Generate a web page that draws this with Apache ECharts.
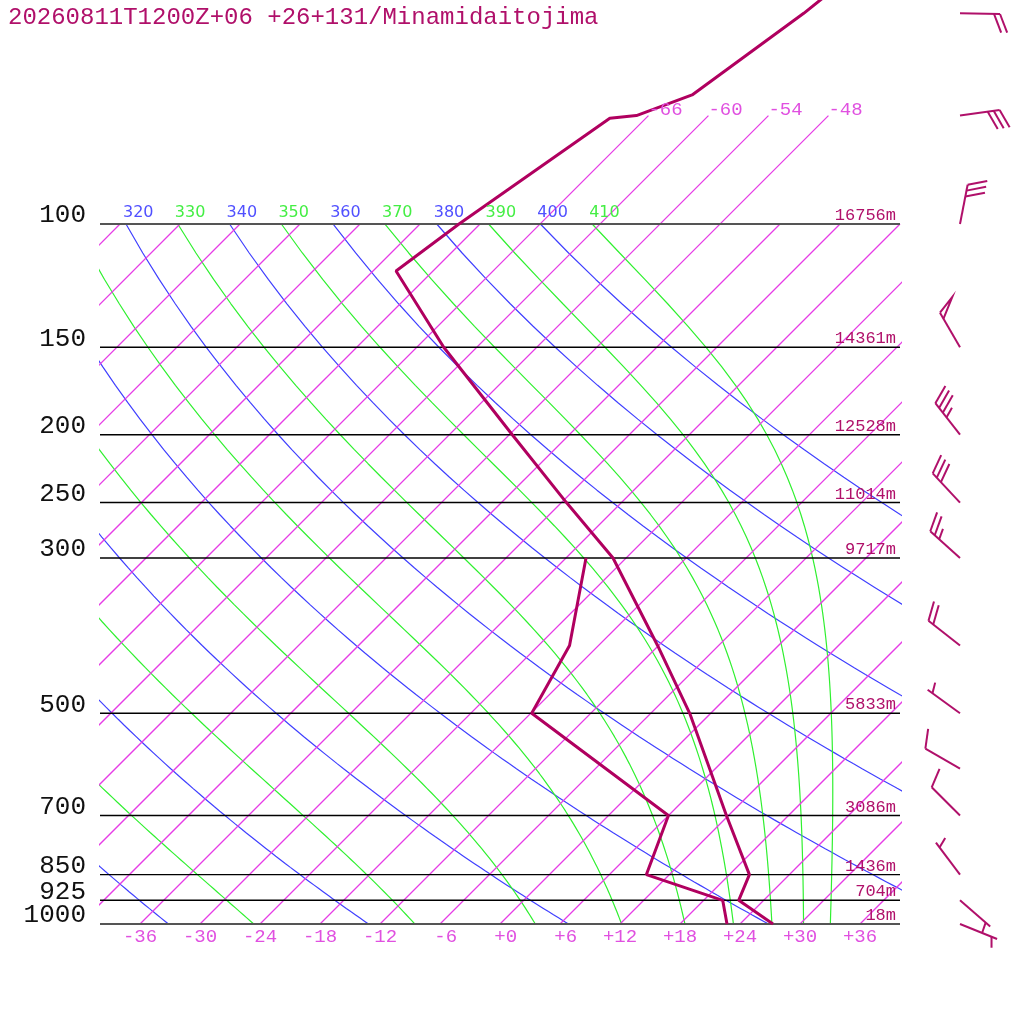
<!DOCTYPE html>
<html>
<head>
<meta charset="utf-8">
<title>Skew-T Minamidaitojima</title>
<script src="https://cdn.jsdelivr.net/npm/echarts@6/dist/echarts.min.js"></script>
<style>
  html, body { margin: 0; padding: 0; background: #fff; }
  #skewt { width: 1024px; height: 1024px; }
</style>
</head>
<body>
<div id="skewt"></div>
<script>
// sounding (hPa / degC)
var tempP = [1000, 925, 850, 700, 500, 400, 300, 250, 200, 150, 116.7, 100, 70.6, 70, 65.4, 50, 40];
var tempT = [27.3, 21.5, 20.0, 11.8, -2.1, -12.1, -25.3, -35.5, -47.7, -63.3, -75.7, -74.1, -69.6, -67.2, -63.7, -60.7, -59.0];
var dewP = [1000, 925, 850, 700, 500, 400, 300];
var dewT = [22.7, 19.9, 9.7, 6.0, -17.9, -20.9, -28.0];

// isobars + geopotential heights
var isobarP = [1000, 925, 850, 700, 500, 300, 250, 200, 150, 100];
var isobarH = ['18m', '704m', '1436m', '3086m', '5833m', '9717m', '11014m', '12528m', '14361m', '16756m'];

// background lines
var isothermT = [-108, -102, -96, -90, -84, -78, -72, -66, -60, -54, -48, -42, -36, -30, -24, -18, -12, -6, 0, 6, 12, 18, 24, 30, 36];
var isothermTopLabels = [-66, -60, -54, -48];
var isothermBottomLabels = [-36, -30, -24, -18, -12, -6, 0, 6, 12, 18, 24, 30, 36];
var dryTheta = [240, 260, 280, 300, 320, 340, 360, 380, 400];
var moistTheta = [250, 270, 290, 310, 330, 350, 370, 390, 410];

// winds (hPa / deg / kt)
var windP = [1000, 925, 850, 700, 600, 500, 400, 300, 250, 200, 150, 100, 70, 50];
var windDir = [112, 131, 323, 315, 300, 306, 308, 312, 317, 322, 330, 11, 82, 91];
var windKt = [5, 5, 5, 10, 10, 5, 20, 25, 30, 35, 50, 30, 30, 20];

var TITLE = '20260811T1200Z+06 +26+131/Minamidaitojima';

var SKEW = 70;          // degC per decade of pressure
var KAPPA = 0.2857;
var P_TOP = 47.86;
var BARB_X = 46;
var MAG = '#b0106a';
var ISO = '#e63ce6';
var MONO = '"Liberation Mono", monospace';

function skewX(t, p) { return t + SKEW * Math.log10(1000 / p); }

// pseudo-adiabatic lapse rate dT/dp (K/hPa)
function moistLapse(p, T) {
  var es = 6.112 * Math.exp(17.67 * (T - 273.15) / (T - 29.65));
  var rs = 0.622 * es / (p - es);
  var Rd = 287.04, cp = 1005.7, Lv = 2.501e6;
  return (Rd * T + Lv * rs) / (cp + Lv * Lv * rs * 0.622 / (Rd * T * T)) / p;
}

function dryCurve(theta) {
  var pts = [];
  for (var p = 1000; p >= 100; p -= 10) {
    pts.push([skewX(theta * Math.pow(p / 1000, KAPPA) - 273.15, p), p]);
  }
  return pts;
}

function moistCurve(theta) {
  var p = 100, T = theta * Math.pow(0.1, KAPPA), dp = 2;
  var pts = [[skewX(T - 273.15, p), p]];
  while (p < 1000) {
    var k1 = moistLapse(p, T);
    var k2 = moistLapse(p + dp / 2, T + dp / 2 * k1);
    var k3 = moistLapse(p + dp / 2, T + dp / 2 * k2);
    var k4 = moistLapse(p + dp, T + dp * k3);
    T += dp / 6 * (k1 + 2 * k2 + 2 * k3 + k4);
    p += dp;
    if (p % 10 === 0) pts.push([skewX(T - 273.15, p), p]);
  }
  return pts;
}

var series = [];
function addLine(points, color, width, z) {
  series.push({
    type: 'line', data: points, symbol: 'none', silent: true, animation: false,
    color: color, itemStyle: { color: color },
    lineStyle: { color: color, width: width, opacity: 1 }, z: z
  });
}

// dry adiabats
dryTheta.forEach(function (th) { addLine(dryCurve(th), '#4040ff', 1.2, 2); });
// moist adiabats
moistTheta.forEach(function (th) { addLine(moistCurve(th), '#30f030', 1.2, 2); });
// isotherms
isothermT.forEach(function (t) {
  var pEnd = isothermTopLabels.indexOf(t) >= 0 ? 70 : 100;
  addLine([[skewX(t, 1000), 1000], [skewX(t, pEnd), pEnd]], ISO, 1.25, 2);
});
// isobars
isobarP.forEach(function (p) {
  var edge = (p === 100 || p === 1000);
  addLine([[-40, p], [40, p]], edge ? '#555' : '#000', edge ? 2 : 1.4, 3);
});
// temperature and dewpoint
addLine(tempP.map(function (p, i) { return [skewX(tempT[i], p), p]; }), '#b0005f', 3, 10);
addLine(dewP.map(function (p, i) { return [skewX(dewT[i], p), p]; }), '#b0005f', 3, 10);

function textEl(x, y, text, align, font, color) {
  return { type: 'text', style: { x: x, y: y, text: text, align: align, verticalAlign: 'middle', font: font, fill: color } };
}

// pressure and height labels
series.push({
  type: 'custom', clip: false, silent: true, animation: false, z: 20,
  data: isobarP.map(function (p, i) { return [p, i]; }),
  renderItem: function (params, api) {
    var p = api.value(0), i = api.value(1);
    var L = api.coord([-40, p]), R = api.coord([40, p]);
    return { type: 'group', children: [
      textEl(L[0] - 14, L[1] - 8.5, String(p), 'right', '26px ' + MONO, '#111'),
      textEl(R[0] - 4, R[1] - 8.5, isobarH[i], 'right', '17px ' + MONO, MAG)
    ] };
  }
});

// isotherm labels (bottom and top)
series.push({
  type: 'custom', clip: false, silent: true, animation: false, z: 20,
  data: isothermBottomLabels.map(function (t) { return [t]; }),
  renderItem: function (params, api) {
    var t = api.value(0);
    var c = api.coord([skewX(t, 1000), 1000]);
    var s = (t < 0 ? '-' : '+') + Math.abs(t);
    while (s.length < 3) s = ' ' + s;
    return textEl(c[0], c[1] + 12.5, s, 'center', '19px ' + MONO, '#e050e0');
  }
});
series.push({
  type: 'custom', clip: false, silent: true, animation: false, z: 20,
  data: isothermTopLabels.map(function (t) { return [t]; }),
  renderItem: function (params, api) {
    var t = api.value(0);
    var c = api.coord([skewX(t, 70), 70]);
    return textEl(c[0], c[1] - 5.5, String(t), 'left', '19px ' + MONO, '#e050e0');
  }
});

// theta labels at 100 hPa
function thetaLabels(list, color) {
  series.push({
    type: 'custom', clip: false, silent: true, animation: false, z: 20,
    data: list.filter(function (th) {
      return skewX(th * Math.pow(0.1, KAPPA) - 273.15, 100) > -40;
    }).map(function (th) { return [th]; }),
    renderItem: function (params, api) {
      var th = api.value(0);
      var c = api.coord([skewX(th * Math.pow(0.1, KAPPA) - 273.15, 100), 100]);
      return textEl(c[0] - 3, c[1] - 11.5, String(th), 'left', '16px "DejaVu Sans"', color);
    }
  });
}
thetaLabels(dryTheta, '#5050ff');
thetaLabels(moistTheta, '#44ee44');

// wind barbs
series.push({
  type: 'custom', clip: false, silent: true, animation: false, z: 20,
  data: windP.map(function (p, i) { return [p, windDir[i], windKt[i]]; }),
  renderItem: function (params, api) {
    var p = api.value(0), dir = api.value(1) * Math.PI / 180, kt = api.value(2);
    var b = api.coord([BARB_X, p]);
    var ux = Math.sin(dir), uy = -Math.cos(dir);
    var tip = [b[0] + 40 * ux, b[1] + 40 * uy];
    var fa = Math.atan2(uy, ux) + 68 * Math.PI / 180;
    var fx = Math.cos(fa), fy = Math.sin(fa);
    var st = { stroke: MAG, lineWidth: 2, fill: null };
    var kids = [{ type: 'line', shape: { x1: b[0], y1: b[1], x2: tip[0], y2: tip[1] }, style: st }];
    var s = Math.round(kt / 5) * 5, d = 0;
    var nPen = Math.floor(s / 50); s -= nPen * 50;
    var nFull = Math.floor(s / 10); s -= nFull * 10;
    function at(k) { return [tip[0] - k * ux, tip[1] - k * uy]; }
    for (var i = 0; i < nPen; i++) {
      var a0 = at(d), a1 = at(d + 7);
      kids.push({ type: 'polyline', shape: { points: [a0, [a0[0] + 20 * fx, a0[1] + 20 * fy], a1] }, style: st });
      d += 9;
    }
    for (var j = 0; j < nFull; j++) {
      var q = at(d);
      kids.push({ type: 'line', shape: { x1: q[0], y1: q[1], x2: q[0] + 20 * fx, y2: q[1] + 20 * fy }, style: st });
      d += 6;
    }
    if (s >= 5) {
      if (d === 0) d = 6;
      var h = at(d);
      kids.push({ type: 'line', shape: { x1: h[0], y1: h[1], x2: h[0] + 11 * fx, y2: h[1] + 11 * fy }, style: st });
    }
    return { type: 'group', children: kids };
  }
});

var chart = echarts.init(document.getElementById('skewt'), null, { renderer: 'canvas' });
chart.setOption({
  animation: false,
  backgroundColor: '#fff',
  grid: { left: 100, right: 124, top: 0, bottom: 100 },
  xAxis: { type: 'value', min: -40, max: 40, show: false },
  yAxis: { type: 'log', logBase: 10, min: P_TOP, max: 1000, inverse: true, show: false },
  graphic: [{
    type: 'text', left: 8, top: 6,
    style: { text: TITLE, font: '24px ' + MONO, fill: MAG }
  }],
  series: series
});
</script>
</body>
</html>
